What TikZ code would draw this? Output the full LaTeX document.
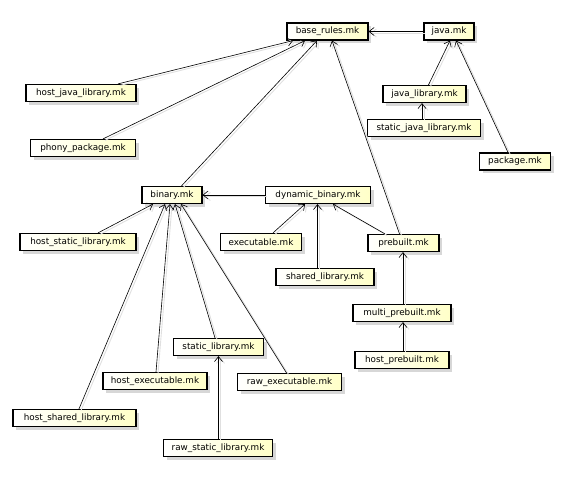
\documentclass[tikz,border=0pt]{standalone}
\usepackage{fontspec}
\setmainfont{DejaVu Sans}
\usetikzlibrary{arrows.meta,shadows}
\definecolor{boxyellow}{RGB}{255,255,200}
\definecolor{shadowgray}{RGB}{215,215,215}
\tikzset{
  mkbox/.style={draw=black, line width=1.2pt, left color=white, right color=boxyellow,
    minimum height=17pt, inner sep=1pt, font=\fontsize{8.8}{10}\selectfont,
    drop shadow={shadow xshift=3pt, shadow yshift=-3pt, fill=shadowgray, opacity=1}},
  dep/.style={-{Straight Barb[length=5pt,width=8pt]}, line width=0.6pt, black,
    preaction={draw=black!12, line width=0.9pt, transform canvas={shift={(2pt,-1.5pt)}}}}
}
\begin{document}
\begin{tikzpicture}[x=1pt,y=-1pt]
\useasboundingbox (0,0) rectangle (572,477);
\node[mkbox, minimum width=81pt] (base) at (327.5,31.5) {base\_rules.mk};
\node[mkbox, minimum width=50pt] (java) at (449,31.5) {java.mk};
\node[mkbox, minimum width=110pt] (hjl) at (81,93) {host\_java\_library.mk};
\node[mkbox, minimum width=105pt] (phony) at (83,148) {phony\_package.mk};
\node[mkbox, minimum width=83pt] (jlib) at (424.5,94) {java\_library.mk};
\node[mkbox, minimum width=113pt] (sjl) at (424,128) {static\_java\_library.mk};
\node[mkbox, minimum width=71pt] (pkg) at (515,161.5) {package.mk};
\node[mkbox, minimum width=60pt] (binary) at (172,195) {binary.mk};
\node[mkbox, minimum width=105pt] (dyn) at (318,195) {dynamic\_binary.mk};
\node[mkbox, minimum width=116pt] (hsl) at (78,242) {host\_static\_library.mk};
\node[mkbox, minimum width=81pt] (exe) at (261,242) {executable.mk};
\node[mkbox, minimum width=71pt] (prebuilt) at (403.5,243) {prebuilt.mk};
\node[mkbox, minimum width=98pt] (shlib) at (325,277) {shared\_library.mk};
\node[mkbox, minimum width=98pt] (multi) at (402,313) {multi\_prebuilt.mk};
\node[mkbox, minimum width=94pt] (hpre) at (402,360) {host\_prebuilt.mk};
\node[mkbox, minimum width=90pt] (stlib) at (218.5,347) {static\_library.mk};
\node[mkbox, minimum width=104pt] (hexe) at (155,381) {host\_executable.mk};
\node[mkbox, minimum width=104pt] (rawexe) at (289.5,382) {raw\_executable.mk};
\node[mkbox, minimum width=123pt] (hshl) at (74.5,418) {host\_shared\_library.mk};
\node[mkbox, minimum width=109pt] (rawst) at (218,448) {raw\_static\_library.mk};
\draw[dep] (java.west) -- (base.east);
\draw[dep] ([xshift=37pt]hjl.north) -- ([xshift=-34.5pt]base.south);
\draw[dep] ([xshift=20pt]phony.north) -- ([xshift=-22.5pt]base.south);
\draw[dep] ([xshift=9.5pt]binary.north) -- ([xshift=-10.5pt]base.south);
\draw[dep] ([xshift=-4pt]prebuilt.north) -- ([xshift=4.5pt]base.south);
\draw[dep] ([xshift=4pt]jlib.north) -- ([xshift=1pt]java.south);
\draw[dep] ([xshift=-7pt]pkg.north) -- ([xshift=7pt]java.south);
\draw[dep] ([xshift=-2pt]sjl.north) -- ([xshift=-2.5pt]jlib.south);
\draw[dep] (dyn.west) -- (binary.east);
\draw[dep] ([xshift=20pt]hsl.north) -- ([xshift=-19pt]binary.south);
\draw[dep] ([xshift=4.5pt]hshl.north) -- ([xshift=-7pt]binary.south);
\draw[dep] ([xshift=1pt]hexe.north) -- ([xshift=-2pt]binary.south);
\draw[dep] ([xshift=-3.5pt]stlib.north) -- ([xshift=3pt]binary.south);
\draw[dep] ([xshift=-3pt]rawexe.north) -- ([xshift=9pt]binary.south);
\draw[dep] ([xshift=12pt]exe.north) -- ([xshift=-13pt]dyn.south);
\draw[dep] ([xshift=-7.5pt]shlib.north) -- ([xshift=-0.5pt]dyn.south);
\draw[dep] ([xshift=-18.5pt]prebuilt.north) -- ([xshift=15pt]dyn.south);
\draw[dep] ([xshift=1pt]multi.north) -- ([xshift=-0.5pt]prebuilt.south);
\draw[dep] ([xshift=1pt]hpre.north) -- ([xshift=1pt]multi.south);
\draw[dep] ([xshift=0.5pt]rawst.north) -- (stlib.south);
\end{tikzpicture}
\end{document}
